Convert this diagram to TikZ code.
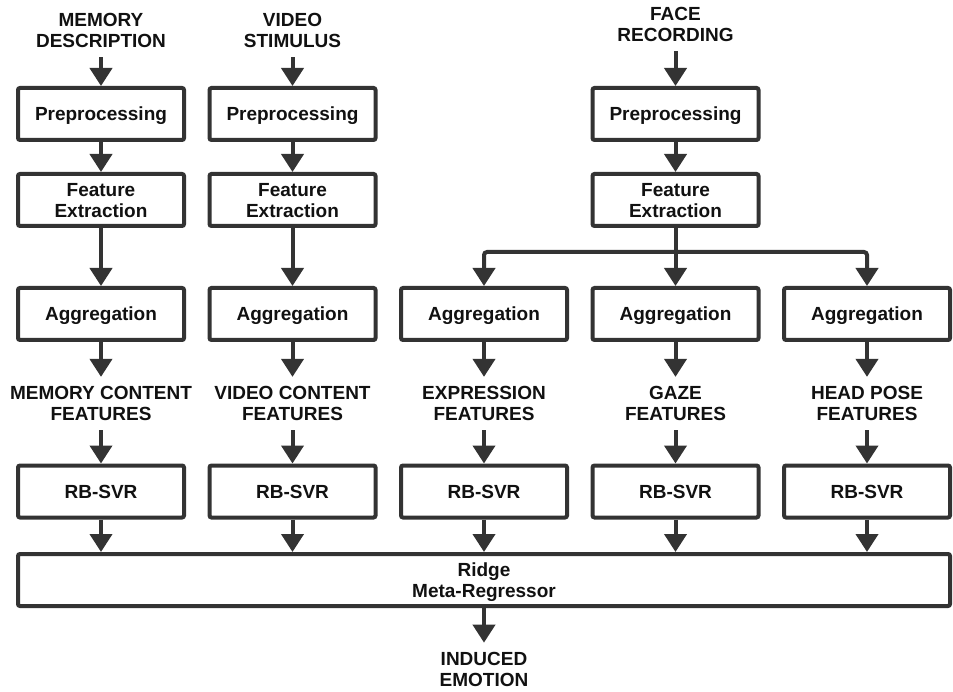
\documentclass[tikz,border=0pt]{standalone}
\usepackage{fontspec}
\setmainfont{Liberation Sans}
\usetikzlibrary{arrows.meta}
\definecolor{linecol}{HTML}{333333}
\definecolor{txtcol}{HTML}{111111}
\begin{document}
\begin{tikzpicture}[x=1pt,y=-1pt,
  every node/.style={font=\fontsize{19}{21}\selectfont\bfseries, text=txtcol, align=center},
  stagebox/.style={draw=linecol, line width=4pt, rounded corners=2pt, fill=white,
    minimum width=166pt, minimum height=52pt, inner sep=0pt, text depth=0pt},
  datalabel/.style={inner xsep=0pt, inner ysep=9.5pt, outer sep=0pt, text depth=0pt},
  flow/.style={draw=linecol, line width=4pt, -{Triangle[length=18pt,width=22pt]}},
  stem/.style={draw=linecol, line width=4pt},
]
\useasboundingbox (0,0) rectangle (953,692);

% input sources
\node[datalabel] (in1) at (101,30.8)   {MEMORY\\DESCRIPTION};
\node[datalabel] (in2) at (292.5,30.8) {VIDEO\\STIMULUS};
\node[datalabel] (in3) at (675.5,24.5) {FACE\\RECORDING};

% preprocessing and feature extraction
\node[stagebox] (pre1) at (101,114)   {Preprocessing};
\node[stagebox] (pre2) at (292.5,114) {Preprocessing};
\node[stagebox] (pre3) at (675.5,114) {Preprocessing};
\node[stagebox] (fe1) at (101,200)   {Feature\\Extraction};
\node[stagebox] (fe2) at (292.5,200) {Feature\\Extraction};
\node[stagebox] (fe3) at (675.5,200) {Feature\\Extraction};

% aggregation per feature stream
\node[stagebox] (agg1) at (101,314)   {Aggregation};
\node[stagebox] (agg2) at (292.5,314) {Aggregation};
\node[stagebox] (agg3) at (484,314)   {Aggregation};
\node[stagebox] (agg4) at (675.5,314) {Aggregation};
\node[stagebox] (agg5) at (867,314)   {Aggregation};

% feature sets
\node[datalabel] (ft1) at (101,403.5)   {MEMORY CONTENT\\FEATURES};
\node[datalabel] (ft2) at (292.5,403.5) {VIDEO CONTENT\\FEATURES};
\node[datalabel] (ft3) at (484,403.5)   {EXPRESSION\\FEATURES};
\node[datalabel] (ft4) at (675.5,403.5) {GAZE\\FEATURES};
\node[datalabel] (ft5) at (867,403.5)   {HEAD POSE\\FEATURES};

% base regressors
\node[stagebox] (svr1) at (101,491.5)   {RB-SVR};
\node[stagebox] (svr2) at (292.5,491.5) {RB-SVR};
\node[stagebox] (svr3) at (484,491.5)   {RB-SVR};
\node[stagebox] (svr4) at (675.5,491.5) {RB-SVR};
\node[stagebox] (svr5) at (867,491.5)   {RB-SVR};

% stacking
\node[stagebox, minimum width=932pt] (ridge) at (484,580) {Ridge\\Meta-Regressor};
\node[datalabel] (out) at (484,669.3) {INDUCED\\EMOTION};

% upper chains
\foreach \i in {1,2,3} {
  \draw[flow] (in\i) -- (pre\i);
  \draw[flow] (pre\i) -- (fe\i);
}
\draw[flow] (fe1) -- (agg1);
\draw[flow] (fe2) -- (agg2);

% split of the face features into three streams
\coordinate (split) at (675.5,252);
\draw[stem] (fe3.south) -- (split);
\draw[flow, rounded corners=3pt] (split) -| (agg3.north);
\draw[flow, rounded corners=3pt] (split) -| (agg5.north);
\draw[flow] (split) -- (agg4.north);

% lower chains
\foreach \i in {1,...,5} {
  \draw[flow] (agg\i) -- (ft\i);
  \draw[flow] (ft\i) -- (svr\i);
  \draw[flow] (svr\i.south) -- (svr\i.south |- ridge.north);
}
\draw[flow] (ridge) -- (out);
\end{tikzpicture}
\end{document}
